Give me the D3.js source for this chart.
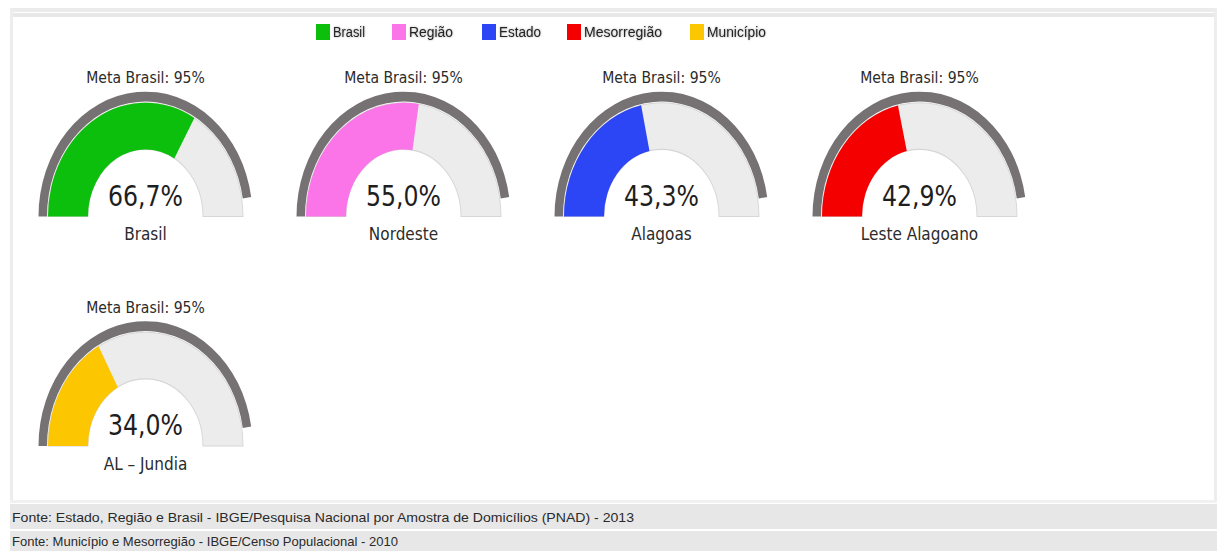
<!DOCTYPE html>
<html>
<head>
<meta charset="utf-8">
<script src="https://cdn.jsdelivr.net/npm/d3@7"></script>
<style>
  html, body { margin: 0; padding: 0; background: #fff; }
  svg { display: block; }
</style>
</head>
<body>
<svg id="chart" width="1217" height="551"></svg>
<script>
// Indicator by territorial level, compared with the national target
const regions = ["Brasil", "Nordeste", "Alagoas", "Leste Alagoano", "AL – Jundia"];
const values = [66.7, 55.0, 43.3, 42.9, 34.0];
const levelColors = ["#0cbf0c", "#fb74e8", "#2c46f5", "#f40000", "#fcc600"];
const legendLabels = ["Brasil", "Região", "Estado", "Mesorregião", "Município"];
const metaValue = 95;
const metaLabel = "Meta Brasil: 95%";
const sources = [
  "Fonte: Estado, Região e Brasil - IBGE/Pesquisa Nacional por Amostra de Domicílios (PNAD) - 2013",
  "Fonte: Município e Mesorregião - IBGE/Censo Populacional - 2010"
];

const W = 1217, H = 551;
const svg = d3.select("#chart");

// page frame
svg.append("rect").attr("x", 10).attr("y", 8).attr("width", W - 10).attr("height", 4).attr("fill", "#ebebeb");
svg.append("rect").attr("x", 10).attr("y", 13).attr("width", W - 10).attr("height", 4).attr("fill", "#e8e8e8");
svg.append("rect").attr("x", 10).attr("y", 8).attr("width", 3).attr("height", 494).attr("fill", "#ededed");
svg.append("rect").attr("x", W - 3).attr("y", 8).attr("width", 3).attr("height", 494).attr("fill", "#ededed");
svg.append("rect").attr("x", 10).attr("y", 500).attr("width", W - 10).attr("height", 3).attr("fill", "#f1f1f1");

// footer source lines
const footerY = [504, 531];
svg.selectAll("rect.src").data(sources).join("rect")
  .attr("class", "src")
  .attr("x", 10).attr("y", (d, i) => footerY[i])
  .attr("width", W - 10).attr("height", (d, i) => i === 0 ? 25 : 20)
  .attr("fill", "#e7e7e7");
const srcWidths = [622, 386];
svg.selectAll("text.src").data(sources).join("text")
  .attr("class", "src")
  .attr("x", 12).attr("y", (d, i) => [522, 546][i])
  .attr("font-family", "Liberation Sans, Arial, sans-serif")
  .attr("font-size", 13)
  .attr("fill", "#2a2a2a")
  .attr("textLength", (d, i) => srcWidths[i])
  .attr("lengthAdjust", "spacingAndGlyphs")
  .text(d => d);

// legend
const legendX = [316, 392, 482, 567, 690];
const legendW = [32, 44, 42, 78, 59];
const defs = svg.append("defs");
const glow = defs.append("filter").attr("id", "glow").attr("x", "-10%").attr("y", "-30%").attr("width", "120%").attr("height", "160%");
glow.append("feGaussianBlur").attr("in", "SourceAlpha").attr("stdDeviation", 1.2).attr("result", "b");
glow.append("feComponentTransfer").attr("in", "b").attr("result", "s")
  .append("feFuncA").attr("type", "linear").attr("slope", 0.35);
const gm = glow.append("feMerge");
gm.append("feMergeNode").attr("in", "s");
gm.append("feMergeNode").attr("in", "SourceGraphic");

const legend = svg.append("g").selectAll("g").data(legendLabels).join("g")
  .attr("transform", (d, i) => `translate(${legendX[i]},0)`);
legend.append("rect")
  .attr("x", 0).attr("y", 24).attr("width", 14).attr("height", 16)
  .attr("fill", (d, i) => levelColors[i]);
legend.append("text")
  .attr("x", 17).attr("y", 37)
  .attr("font-family", "Liberation Sans, Arial, sans-serif")
  .attr("font-size", 14)
  .attr("fill", "#222")
  .attr("filter", "url(#glow)")
  .attr("textLength", (d, i) => legendW[i])
  .attr("lengthAdjust", "spacingAndGlyphs")
  .text(d => d);

// gauges
const angle = d3.scaleLinear().domain([0, 100]).range([-Math.PI / 2, Math.PI / 2]);
const bandArc = d3.arc().innerRadius(57.5).outerRadius(97.5);
const metaArc = d3.arc().innerRadius(98.5).outerRadius(107);
const stretchY = 1.167;   // gauges are drawn slightly taller than wide
const squeezeX = 0.86;    // text is slightly condensed
const colStep = 258, rowStep = 229.5, x0 = 145.5, y0 = 216.5;
const fmt = v => d3.format(".1f")(v).replace(".", ",") + "%";

const gauges = svg.append("g").selectAll("g.gauge").data(values).join("g")
  .attr("class", "gauge")
  .attr("transform", (d, i) => `translate(${x0 + (i % 4) * colStep},${y0 + Math.floor(i / 4) * rowStep})`);

const dial = gauges.append("g").attr("transform", `scale(1,${stretchY})`);
dial.append("path")
  .attr("d", bandArc({ startAngle: angle(0), endAngle: angle(100) }))
  .attr("fill", "#ececec")
  .attr("stroke", "#d6d6d6")
  .attr("stroke-width", 0.9);
dial.append("path")
  .attr("d", (d) => bandArc({ startAngle: angle(0), endAngle: angle(d) }))
  .attr("fill", (d, i) => levelColors[i]);
dial.append("path")
  .attr("d", metaArc({ startAngle: angle(0), endAngle: angle(metaValue) }))
  .attr("fill", "#767273");

const gaugeFont = "DejaVu Sans, Verdana, sans-serif";
gauges.append("text")
  .attr("transform", `translate(0,-133.5) scale(${squeezeX},1)`)
  .attr("text-anchor", "middle")
  .attr("font-family", gaugeFont)
  .attr("font-size", 16.3)
  .attr("fill", "#2b2b2b")
  .text(metaLabel);
gauges.append("text")
  .attr("transform", (d, i) => `translate(0,${i < 4 ? -10.5 : -11}) scale(${squeezeX},1)`)
  .attr("text-anchor", "middle")
  .attr("font-family", gaugeFont)
  .attr("font-size", 27.5)
  .attr("fill", "#1e1e1e")
  .text(d => fmt(d));
gauges.append("text")
  .attr("transform", `translate(0,23.5) scale(0.9,1)`)
  .attr("text-anchor", "middle")
  .attr("font-family", gaugeFont)
  .attr("font-size", 17)
  .attr("fill", "#2b2b2b")
  .text((d, i) => regions[i]);
</script>
</body>
</html>
